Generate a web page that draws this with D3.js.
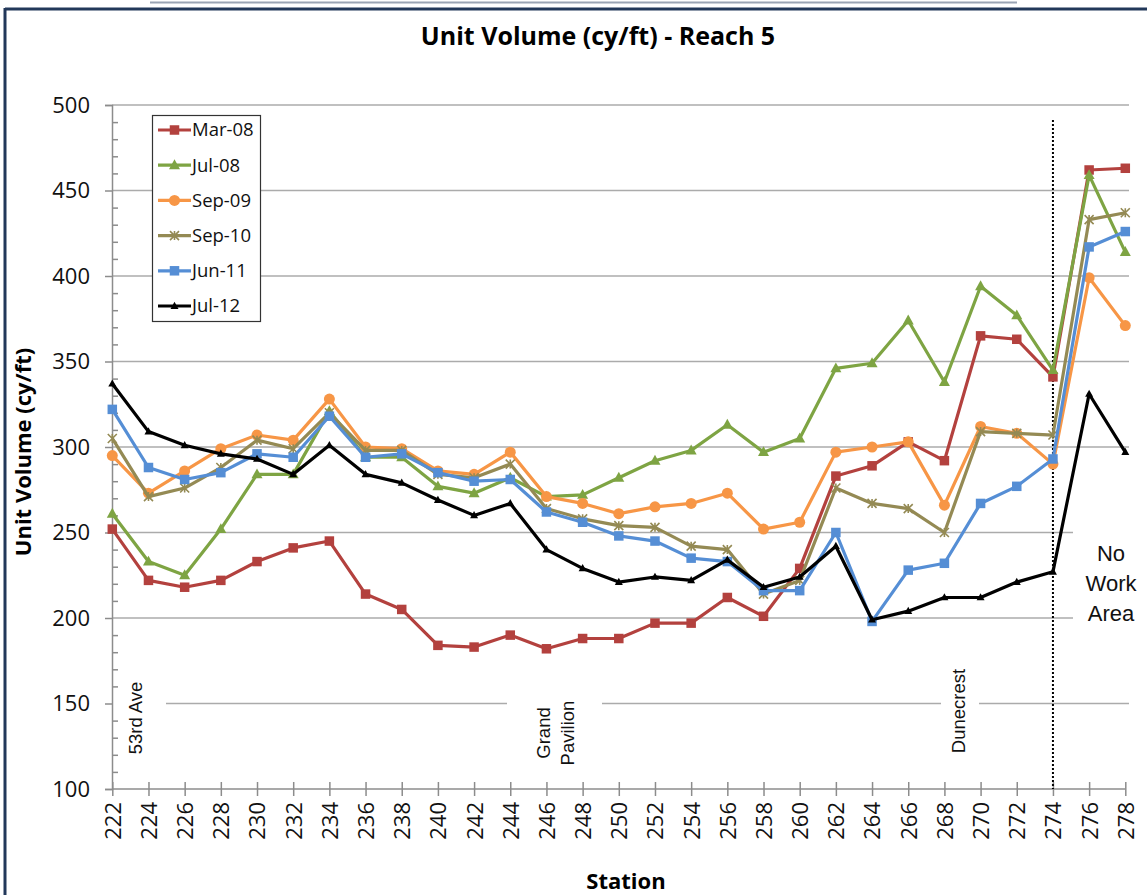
<!DOCTYPE html>
<html><head><meta charset="utf-8">
<script src="https://cdn.jsdelivr.net/npm/d3@7"></script>
<style>body{margin:0;background:#fff}svg{display:block}</style>
</head><body><svg id="c" width="1147" height="895"></svg>
<script>
const stations = [222,224,226,228,230,232,234,236,238,240,242,244,246,248,250,252,254,256,258,260,262,264,266,268,270,272,274,276,278];
const yTicks = [100,150,200,250,300,350,400,450,500];
const seriesNames = ["Mar-08","Jul-08","Sep-09","Sep-10","Jun-11","Jul-12"];
const mar08 = [252,222,218,222,233,241,245,214,205,184,183,190,182,188,188,197,197,212,201,229,283,289,303,292,365,363,341,462,463];
const jul08 = [261,233,225,252,284,284,321,294,294,277,273,282,271,272,282,292,298,313,297,305,346,349,374,338,394,377,345,459,414];
const sep09 = [295,273,286,299,307,304,328,300,299,286,284,297,271,267,261,265,267,273,252,256,297,300,303,266,312,308,290,399,371];
const sep10 = [305,271,276,288,304,299,320,298,298,284,282,290,264,258,254,253,242,240,214,222,276,267,264,250,309,308,307,433,437];
const jun11 = [322,288,281,285,296,294,318,294,296,285,280,281,262,256,248,245,235,233,216,216,250,198,228,232,267,277,293,417,426];
const jul12 = [337,309,301,296,293,284,301,284,279,269,260,267,240,229,221,224,222,234,218,224,242,199,204,212,212,221,227,331,297];
const seriesValues = [mar08, jul08, sep09, sep10, jun11, jul12];
const landmarks = [
  {station:223.3, cy:718, lines:["53rd Ave"]},
  {station:246.5, cy:733, lines:["Grand","Pavilion"]},
  {station:268.8, cy:711, lines:["Dunecrest"]}
];
const noWorkLines = ["No","Work","Area"];
const noWorkStation = 274;

const styles = [
  {color:"#B3413E", marker:"square", size:9.5},
  {color:"#7EA443", marker:"triangle", size:11},
  {color:"#F79646", marker:"circle", size:5.5},
  {color:"#948A54", marker:"star", size:9},
  {color:"#558ED5", marker:"square", size:9.5},
  {color:"#000000", marker:"triangle", size:8}
];

const svg = d3.select("#c");
const x = d3.scaleLinear().domain([222,278]).range([112.3,1125.3]);
const y = d3.scaleLinear().domain([100,500]).range([789,105]);
const plotL = 112, plotR = 1129;

// page decorations
svg.append("line").attr("x1",150).attr("x2",1017).attr("y1",2.5).attr("y2",2.5).attr("stroke","#9AA4B4").attr("stroke-width",2);
svg.append("line").attr("x1",5).attr("x2",1147).attr("y1",9).attr("y2",9).attr("stroke","#22385A").attr("stroke-width",3);
svg.append("line").attr("x1",5).attr("x2",5).attr("y1",8).attr("y2",895).attr("stroke","#22385A").attr("stroke-width",3);

// title
svg.append("text").attr("x",598).attr("y",45).attr("text-anchor","middle")
  .attr("font-family","Open Sans").attr("font-weight","bold").attr("font-size",25)
  .text("Unit Volume (cy/ft) - Reach 5");

// gridlines
svg.append("g").selectAll("line").data(yTicks.filter(v=>v>100)).join("line")
  .attr("x1",plotL).attr("x2",plotR).attr("y1",d=>y(d)).attr("y2",d=>y(d))
  .attr("stroke","#ABABAB").attr("stroke-width",1.5);

// white masks behind annotation text
const maskG = svg.append("g");
maskG.append("rect").attr("x",113).attr("y",660).attr("width",53).attr("height",110).attr("fill","#fff");
maskG.append("rect").attr("x",507).attr("y",660).attr("width",95).attr("height",110).attr("fill","#fff");
maskG.append("rect").attr("x",941).attr("y",660).attr("width",38).attr("height",110).attr("fill","#fff");
maskG.append("rect").attr("x",1073).attr("y",522).attr("width",74).attr("height",110).attr("fill","#fff");

// Y axis
const yAxis = svg.append("g").attr("transform",`translate(${plotL},0)`)
  .call(d3.axisLeft(y).tickValues(yTicks).tickSize(7).tickPadding(15).tickFormat(d3.format("d")));
yAxis.select(".domain").attr("stroke","#8C8C8C").attr("stroke-width",1.5);
yAxis.selectAll(".tick line").attr("stroke","#8C8C8C").attr("stroke-width",1.5);
yAxis.selectAll(".tick text").attr("font-family","Open Sans").attr("font-size",22).attr("fill","#111");
const minorTicks = d3.range(100,501,10).filter(v=>v%50!==0);
const yMinor = svg.append("g").attr("transform",`translate(${plotL},0)`)
  .call(d3.axisRight(y).tickValues(minorTicks).tickSize(6).tickFormat(""));
yMinor.select(".domain").remove();
yMinor.selectAll(".tick line").attr("stroke","#8C8C8C").attr("stroke-width",1.5);

// X axis
const xAxis = svg.append("g").attr("transform",`translate(0,${y(100)})`)
  .call(d3.axisBottom(x).tickValues(stations).tickSize(7).tickPadding(0).tickFormat(d3.format("d")));
xAxis.select(".domain").attr("d",`M${plotL},0H${x(278)}`).attr("stroke","#8C8C8C").attr("stroke-width",1.5);
xAxis.selectAll(".tick line").attr("y1",-7).attr("y2",7).attr("stroke","#8C8C8C").attr("stroke-width",1.5);
xAxis.selectAll(".tick text").attr("font-family","Open Sans").attr("font-size",22).attr("fill","#111")
  .attr("text-anchor","end").attr("transform","translate(0,13) rotate(-90)").attr("x",0).attr("y",0).attr("dy","0.36em");

// axis titles
svg.append("text").attr("transform","translate(31,452) rotate(-90)").attr("text-anchor","middle")
  .attr("font-family","Open Sans").attr("font-weight","bold").attr("font-size",22).text("Unit Volume  (cy/ft)");
svg.append("text").attr("x",626).attr("y",889).attr("text-anchor","middle")
  .attr("font-family","Open Sans").attr("font-weight","bold").attr("font-size",22).text("Station");

// annotations
landmarks.forEach(l=>{
  const cx = x(l.station), cy = l.cy;
  const t = svg.append("text").attr("transform",`translate(${cx},${cy}) rotate(-90)`)
    .attr("text-anchor","middle").attr("font-family","Liberation Sans").attr("font-size",18.5).attr("fill","#111");
  const n = l.lines.length;
  l.lines.forEach((s,i)=>{
    t.append("tspan").attr("x",0).attr("dy", i===0 ? `${0.35-(n-1)*0.65}em` : "1.3em").text(s);
  });
});
const nw = svg.append("text").attr("x",1111).attr("y",561).attr("text-anchor","middle")
  .attr("font-family","Liberation Sans").attr("font-size",22).attr("fill","#111");
noWorkLines.forEach((s,i)=>nw.append("tspan").attr("x",1111).attr("dy",i===0?0:"1.36em").text(s));

// dotted no-work line
svg.append("line").attr("x1",x(noWorkStation)).attr("x2",x(noWorkStation)).attr("y1",120).attr("y2",y(100))
  .attr("stroke","#000").attr("stroke-width",2).attr("stroke-dasharray","2,2");

// markers
function drawMarker(g, type, size, color){
  if(type==="square"){
    g.append("rect").attr("x",-size/2).attr("y",-size/2).attr("width",size).attr("height",size).attr("fill",color);
  } else if(type==="triangle"){
    const h = size*0.9;
    g.append("path").attr("d",`M0,${-h*0.6}L${size/2},${h*0.4}L${-size/2},${h*0.4}Z`).attr("fill",color);
  } else if(type==="circle"){
    g.append("circle").attr("r",size).attr("fill",color);
  } else if(type==="star"){
    const s = size/2;
    g.append("path").attr("d",`M${-s},${-s}L${s},${s}M${-s},${s}L${s},${-s}M0,${-s}V${s}`)
      .attr("stroke",color).attr("stroke-width",1.6).attr("fill","none");
  }
}

const line = d3.line().x(d=>x(d[0])).y(d=>y(d[1]));
seriesValues.forEach((vals,i)=>{
  const st = styles[i];
  const pts = stations.map((s,j)=>[s,vals[j]]);
  const g = svg.append("g");
  g.append("path").attr("d",line(pts)).attr("fill","none").attr("stroke",st.color).attr("stroke-width",3.2)
    .attr("stroke-linejoin","round");
  pts.forEach(p=>{
    const mg = g.append("g").attr("transform",`translate(${x(p[0])},${y(p[1])})`);
    drawMarker(mg, st.marker, st.size, st.color);
  });
});

// legend
const lg = svg.append("g");
lg.append("rect").attr("x",152.5).attr("y",115.5).attr("width",108).attr("height",206)
  .attr("fill","#fff").attr("stroke","#333").attr("stroke-width",1.2);
seriesNames.forEach((name,i)=>{
  const ly = 130 + i*35.2;
  const st = styles[i];
  lg.append("line").attr("x1",158).attr("x2",191).attr("y1",ly).attr("y2",ly).attr("stroke",st.color).attr("stroke-width",3.2);
  const mg = lg.append("g").attr("transform",`translate(174.5,${ly})`);
  drawMarker(mg, st.marker, st.size, st.color);
  lg.append("text").attr("x",192).attr("y",ly).attr("dy","0.35em").attr("font-family","Open Sans").attr("font-size",18.5)
    .attr("fill","#111").text(name);
});
</script></body></html>
